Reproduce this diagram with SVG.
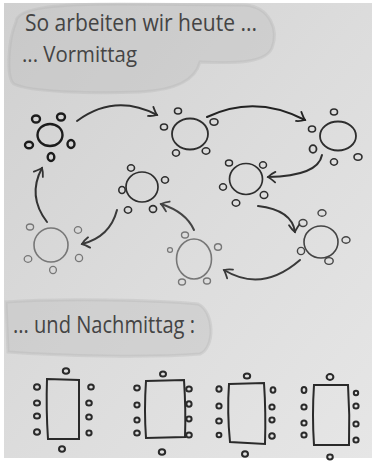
<svg xmlns="http://www.w3.org/2000/svg" width="376" height="462" viewBox="0 0 376 462">
  <defs>
    <linearGradient id="paper" x1="0" y1="0" x2="1" y2="1">
      <stop offset="0" stop-color="#d0d0d0"/>
      <stop offset="0.5" stop-color="#dcdcdc"/>
      <stop offset="1" stop-color="#e6e6e6"/>
    </linearGradient>
    <marker id="head" markerUnits="userSpaceOnUse" markerWidth="16" markerHeight="16" refX="0" refY="0" viewBox="-9 -8 12 16" orient="auto" overflow="visible">
      <path d="M-7,-5.5 Q-2,-1 0,0 Q-3,3 -7.5,5" fill="none" stroke="context-stroke" stroke-width="1.8" stroke-linecap="round"/>
    </marker>
    <style>
      .hand { font-family: "Open Sans", "Noto Sans", "Liberation Sans", sans-serif; fill: #444; }
      .blob { fill: #bdbdbd; fill-opacity: 0.38; stroke: #b0b0b0; stroke-opacity: 0.3; stroke-width: 3; }
      .tbl { fill: none; }
      .chair { fill: none; }
      .arrow { fill: none; stroke-width: 2; stroke-linecap: round; marker-end: url(#head); }
      .dark .tbl, .dark .chair { stroke: #1c1c1c; }
      .mid .tbl, .mid .chair { stroke: #2e2e2e; }
      .soft .tbl, .soft .chair { stroke: #444; }
      .faint .tbl, .faint .chair { stroke: #777; }
      .rect .tbl { stroke: #2a2a2a; stroke-width: 2; }
      .rect .chair { stroke: #2a2a2a; stroke-width: 2; }
    </style>
  </defs>

  <!-- paper -->
  <rect x="0" y="0" width="376" height="462" fill="#ffffff"/>
  <rect x="4" y="3" width="368" height="455" fill="url(#paper)"/>

  <!-- highlighter marks -->
  <path class="blob" d="M16,22 C16,7 60,4 120,4 L245,5 C270,7 279,30 272,48 C266,62 240,64 200,62 C196,78 180,90 140,92 C90,94 30,92 14,84 C6,78 8,40 16,22 Z"/>
  <path class="blob" d="M6,302 C60,298 160,300 198,304 C215,312 215,348 200,354 C150,358 60,356 8,352 Z"/>

  <!-- headings -->
  <g id="title">
    <text class="hand" x="25" y="31" font-size="24" textLength="232" lengthAdjust="spacingAndGlyphs">So arbeiten wir heute ...</text>
  </g>
  <g id="morning">
    <text class="hand" x="22" y="62" font-size="22" textLength="115" lengthAdjust="spacingAndGlyphs">... Vormittag</text>
  </g>
  <g id="afternoon">
    <text class="hand" x="13" y="333" font-size="23" textLength="182" lengthAdjust="spacingAndGlyphs">... und Nachmittag :</text>
  </g>

  <!-- round tables -->
  <g id="round-1" class="dark">
    <ellipse class="tbl" cx="50" cy="135" rx="12.5" ry="11" stroke-width="2.4"/>
    <ellipse class="chair" cx="36" cy="119" rx="4" ry="3.5" stroke-width="2.4"/>
    <ellipse class="chair" cx="61" cy="117" rx="4" ry="3.5" stroke-width="2.4"/>
    <ellipse class="chair" cx="29" cy="145" rx="4" ry="3.3" stroke-width="2.4"/>
    <ellipse class="chair" cx="71" cy="144" rx="3.5" ry="4" stroke-width="2.4"/>
    <ellipse class="chair" cx="51" cy="157" rx="3.3" ry="4" stroke-width="2.4"/>
  </g>
  <g id="round-2" class="mid">
    <ellipse class="tbl" cx="190" cy="134" rx="18" ry="15.5" stroke-width="1.8"/>
    <ellipse class="chair" cx="178" cy="111" rx="3.5" ry="3" stroke-width="1.6"/>
    <ellipse class="chair" cx="164" cy="127" rx="3.5" ry="3" stroke-width="1.6"/>
    <ellipse class="chair" cx="214" cy="122" rx="4" ry="3.2" stroke-width="1.6"/>
    <ellipse class="chair" cx="176" cy="153" rx="3.5" ry="3.2" stroke-width="1.6"/>
    <ellipse class="chair" cx="206" cy="151" rx="3.8" ry="3.2" stroke-width="1.6"/>
  </g>
  <g id="round-3" class="mid">
    <ellipse class="tbl" cx="338" cy="136" rx="18" ry="14.5" stroke-width="1.8"/>
    <ellipse class="chair" cx="334" cy="112" rx="3.5" ry="3" stroke-width="1.6"/>
    <ellipse class="chair" cx="312" cy="129" rx="3.5" ry="3" stroke-width="1.6"/>
    <ellipse class="chair" cx="313" cy="149" rx="3.5" ry="3.8" stroke-width="1.8"/>
    <ellipse class="chair" cx="334" cy="162" rx="3.5" ry="3.2" stroke-width="1.6"/>
    <ellipse class="chair" cx="358" cy="157" rx="4" ry="3.3" stroke-width="1.6"/>
  </g>
  <g id="round-4" class="mid">
    <ellipse class="tbl" cx="246" cy="179" rx="16.5" ry="15.5" stroke-width="1.7"/>
    <ellipse class="chair" cx="229" cy="163" rx="3.5" ry="3" stroke-width="1.5"/>
    <ellipse class="chair" cx="263" cy="165" rx="3.5" ry="3.2" stroke-width="1.5"/>
    <ellipse class="chair" cx="223" cy="187" rx="3.5" ry="3.2" stroke-width="1.5"/>
    <ellipse class="chair" cx="264" cy="195" rx="3.8" ry="3.5" stroke-width="1.5"/>
    <ellipse class="chair" cx="236" cy="203" rx="3.8" ry="3.2" stroke-width="1.5"/>
  </g>
  <g id="round-5" class="soft">
    <ellipse class="tbl" cx="321" cy="242" rx="17" ry="16" stroke-width="1.6"/>
    <ellipse class="chair" cx="322" cy="213" rx="4" ry="3.3" stroke-width="1.4"/>
    <ellipse class="chair" cx="303" cy="223" rx="4" ry="3.5" stroke-width="1.4"/>
    <ellipse class="chair" cx="346" cy="240" rx="4" ry="3.2" stroke-width="1.4"/>
    <ellipse class="chair" cx="301" cy="251" rx="3.6" ry="3.6" stroke-width="1.4"/>
    <ellipse class="chair" cx="329" cy="261" rx="4.2" ry="3.4" stroke-width="1.4"/>
  </g>
  <g id="round-6" class="faint">
    <ellipse class="tbl" cx="194" cy="259" rx="17.5" ry="20" stroke-width="1.6"/>
    <ellipse class="chair" cx="170" cy="250" rx="2.5" ry="2.3" stroke-width="1.2"/>
    <ellipse class="chair" cx="185" cy="235" rx="3.5" ry="3" stroke-width="1.4"/>
    <ellipse class="chair" cx="218" cy="247" rx="3.5" ry="3.2" stroke-width="1.4"/>
    <ellipse class="chair" cx="182" cy="282" rx="3.5" ry="3" stroke-width="1.4"/>
    <ellipse class="chair" cx="207" cy="281" rx="3.5" ry="3" stroke-width="1.4"/>
  </g>
  <g id="round-7" class="mid">
    <ellipse class="tbl" cx="142" cy="187" rx="16" ry="15" stroke-width="1.7"/>
    <ellipse class="chair" cx="131" cy="168" rx="3.5" ry="3.2" stroke-width="1.6"/>
    <ellipse class="chair" cx="165" cy="180" rx="3.5" ry="3.2" stroke-width="1.6"/>
    <ellipse class="chair" cx="122" cy="190" rx="3.2" ry="3.5" stroke-width="1.6"/>
    <ellipse class="chair" cx="128" cy="210" rx="3.6" ry="3.2" stroke-width="1.6"/>
    <ellipse class="chair" cx="153" cy="209" rx="3.6" ry="3.4" stroke-width="1.6"/>
  </g>
  <g id="round-8" class="faint">
    <ellipse class="tbl" cx="51" cy="245" rx="17" ry="17" stroke-width="1.6"/>
    <ellipse class="chair" cx="30" cy="227" rx="3.6" ry="3" stroke-width="1.3"/>
    <ellipse class="chair" cx="78" cy="230" rx="3.6" ry="3.3" stroke-width="1.3"/>
    <ellipse class="chair" cx="28" cy="259" rx="3.8" ry="3.3" stroke-width="1.3"/>
    <ellipse class="chair" cx="79" cy="258" rx="3.6" ry="3.6" stroke-width="1.3"/>
    <ellipse class="chair" cx="53" cy="270" rx="3.4" ry="3.6" stroke-width="1.3"/>
  </g>

  <!-- rotation between tables -->
  <g id="connectors">
    <path class="arrow" stroke="#2e2e2e" d="M77,121 Q115,93 157,115"/>
    <path class="arrow" stroke="#222" d="M207,117 Q255,94 305,120"/>
    <path class="arrow" stroke="#2e2e2e" d="M322,155 Q318,176 268,177"/>
    <path class="arrow" stroke="#333" d="M258,206 Q292,210 295,232"/>
    <path class="arrow" stroke="#3a3a3a" d="M300,260 Q262,293 224,270"/>
    <path class="arrow" stroke="#444" d="M194,230 Q186,212 161,204"/>
    <path class="arrow" stroke="#3a3a3a" d="M117,210 Q110,237 82,244"/>
    <path class="arrow" stroke="#333" d="M47,222 Q27,196 42,168"/>
  </g>

  <!-- long tables -->
  <g id="long-a" class="rect">
    <path class="tbl" d="M47,379 L79,380 L79,439 L48,439 Q46,410 47,379 Z"/>
    <ellipse class="chair" cx="66" cy="371" rx="3.2" ry="2.8"/>
    <ellipse class="chair" cx="62" cy="449" rx="3" ry="2.8"/>
    <ellipse class="chair" cx="37" cy="387" rx="3" ry="2.8"/>
    <ellipse class="chair" cx="37" cy="403" rx="3" ry="2.6"/>
    <ellipse class="chair" cx="37" cy="416" rx="3" ry="2.6"/>
    <ellipse class="chair" cx="37" cy="432" rx="3" ry="2.8"/>
    <ellipse class="chair" cx="91" cy="387" rx="2.8" ry="2.6"/>
    <ellipse class="chair" cx="89" cy="403" rx="2.8" ry="2.6"/>
    <ellipse class="chair" cx="89" cy="417" rx="2.8" ry="2.6"/>
    <ellipse class="chair" cx="89" cy="433" rx="2.6" ry="2.4"/>
  </g>
  <g id="long-b" class="rect">
    <path class="tbl" d="M146,381 L184,380 Q186,410 185,437 L146,438 Q144,410 146,381 Z"/>
    <ellipse class="chair" cx="163" cy="374" rx="3" ry="2.6"/>
    <ellipse class="chair" cx="162" cy="452" rx="3.2" ry="2.8"/>
    <ellipse class="chair" cx="137" cy="388" rx="2.8" ry="2.4"/>
    <ellipse class="chair" cx="137" cy="405" rx="2.6" ry="2.4"/>
    <ellipse class="chair" cx="137" cy="420" rx="2.6" ry="2.6"/>
    <ellipse class="chair" cx="137" cy="433" rx="2.8" ry="2.6"/>
    <ellipse class="chair" cx="189" cy="389" rx="2.8" ry="2.6"/>
    <ellipse class="chair" cx="189" cy="404" rx="2.6" ry="2.8"/>
    <ellipse class="chair" cx="189" cy="419" rx="2.6" ry="2.4"/>
    <ellipse class="chair" cx="189" cy="435" rx="2.8" ry="2.6"/>
  </g>
  <g id="long-c" class="rect">
    <path class="tbl" d="M229,384 L264,383 Q266,412 265,444 L230,442 Q227,412 229,384 Z"/>
    <ellipse class="chair" cx="247" cy="376" rx="3.2" ry="2.6"/>
    <ellipse class="chair" cx="245" cy="454" rx="3" ry="2.8"/>
    <ellipse class="chair" cx="219" cy="389" rx="2.6" ry="2.8"/>
    <ellipse class="chair" cx="219" cy="406" rx="2.6" ry="2.6"/>
    <ellipse class="chair" cx="219" cy="421" rx="2.8" ry="2.6"/>
    <ellipse class="chair" cx="219" cy="435" rx="2.4" ry="2.2"/>
    <ellipse class="chair" cx="273" cy="390" rx="2.4" ry="2.8"/>
    <ellipse class="chair" cx="272" cy="407" rx="2.6" ry="2.6"/>
    <ellipse class="chair" cx="272" cy="420" rx="2.6" ry="2.4"/>
    <ellipse class="chair" cx="272" cy="436" rx="2.8" ry="2.8"/>
  </g>
  <g id="long-d" class="rect">
    <path class="tbl" d="M314,385 L348,385 Q350,415 349,445 L314,445 Q312,415 314,385 Z" stroke="#111" stroke-width="2.6"/>
    <ellipse class="chair" cx="330" cy="377" rx="3.4" ry="3" stroke="#111" stroke-width="2.6"/>
    <ellipse class="chair" cx="330" cy="457" rx="2.8" ry="2.4" stroke="#111" stroke-width="2.6"/>
    <ellipse class="chair" cx="304" cy="390" rx="2.4" ry="3" stroke="#111" stroke-width="2.8"/>
    <ellipse class="chair" cx="304" cy="407" rx="2.6" ry="2.6" stroke="#111" stroke-width="2.8"/>
    <ellipse class="chair" cx="304" cy="423" rx="2.6" ry="2.6" stroke="#111" stroke-width="2.8"/>
    <ellipse class="chair" cx="304" cy="435" rx="2.6" ry="2.6" stroke="#111" stroke-width="2.8"/>
    <ellipse class="chair" cx="356" cy="393" rx="2.2" ry="2.2" stroke="#111" stroke-width="2.4"/>
    <ellipse class="chair" cx="356" cy="406" rx="2.6" ry="2.6" stroke="#111" stroke-width="2.6"/>
    <ellipse class="chair" cx="356" cy="424" rx="2.6" ry="2.6" stroke="#111" stroke-width="2.6"/>
    <ellipse class="chair" cx="356" cy="440" rx="2.6" ry="2.6" stroke="#111" stroke-width="2.6"/>
  </g>
</svg>
